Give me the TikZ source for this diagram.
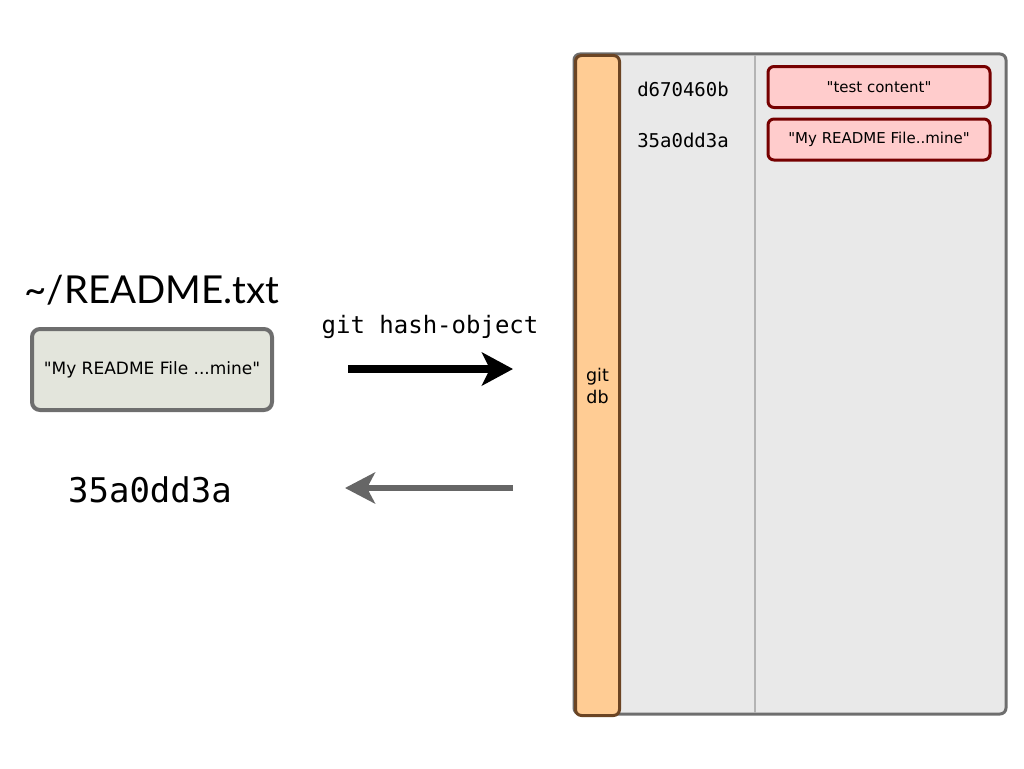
\documentclass[tikz,border=0pt]{standalone}
\usepackage{fontspec}
\setmainfont[Ligatures=TeXOff]{DejaVu Sans}
\newfontfamily\titlefont{Lato}
\newfontfamily\monofont{DejaVu Sans Mono}
\usetikzlibrary{arrows.meta}
\definecolor{dbgray}{HTML}{E9E9E9}
\definecolor{dbborder}{HTML}{6E6E6E}
\definecolor{barfill}{HTML}{FFCC94}
\definecolor{barborder}{HTML}{6B4423}
\definecolor{redfill}{HTML}{FFCCCC}
\definecolor{redborder}{HTML}{760000}
\definecolor{filefill}{HTML}{E3E5DC}
\definecolor{divider}{HTML}{B4B4B4}
\definecolor{arrgray}{HTML}{666666}
\tikzset{
  objbox/.style={draw=redborder, fill=redfill, line width=3pt, rounded corners=6pt,
    minimum width=222pt, minimum height=41pt, inner sep=0pt,
    font=\fontsize{15}{18}\selectfont},
  hashtxt/.style={font=\monofont\fontsize{19}{22}\selectfont, inner sep=0pt},
  arrowline/.style={line width=7.5pt}
}
\begin{document}
\begin{tikzpicture}[x=1pt,y=-1pt]
\useasboundingbox (0,0) rectangle (1024,768);
% database
\draw[draw=dbborder, fill=dbgray, line width=3pt, rounded corners=6pt] (574,54) rectangle (1006,714);
\draw[divider, line width=1.5pt] (755,55) -- (755,713);
\node[draw=barborder, fill=barfill, line width=3pt, rounded corners=6pt, minimum width=44pt, minimum height=660pt, inner sep=0pt, anchor=north west, align=center, font=\fontsize{17.5}{22}\selectfont] (bar) at (574,54) {git\\db};
% objects
\node[hashtxt] (h1) at (683,89) {d670460b};
\node[hashtxt] (h2) at (683,140) {35a0dd3a};
\node[objbox] (o1) at (879,87) {"test content"};
\node[objbox] (o2) at (879,139.5) {"My README File..mine"};
% left side
\node[font=\titlefont\fontsize{38.5}{44}\selectfont, inner sep=0pt] (title) at (152,290) {\char`\~/README.txt};
\node[draw=dbborder, fill=filefill, line width=4pt, rounded corners=8pt, minimum width=240pt, minimum height=81pt, inner sep=0pt, font=\fontsize{17}{20}\selectfont] (file) at (152,369.5) {"My README File ...mine"};
\node[font=\monofont\fontsize{24}{28}\selectfont, inner sep=0pt] (cmd) at (430,327) {git hash-object};
\node[font=\monofont\fontsize{34}{38}\selectfont, inner sep=0pt] (res) at (150,490) {35a0dd3a};
% arrows
\coordinate (a1s) at (348,369);
\coordinate (a1e) at (513,369);
\coordinate (a2s) at (513,488);
\coordinate (a2e) at (345,488);
\draw[arrowline, -{Stealth[length=31pt,width=33pt,inset=8pt]}] (a1s) -- (a1e);
\draw[arrowline, arrgray, line width=6.5pt, -{Stealth[length=30pt,width=31pt,inset=8pt]}] (a2s) -- (a2e);
\end{tikzpicture}
\end{document}
